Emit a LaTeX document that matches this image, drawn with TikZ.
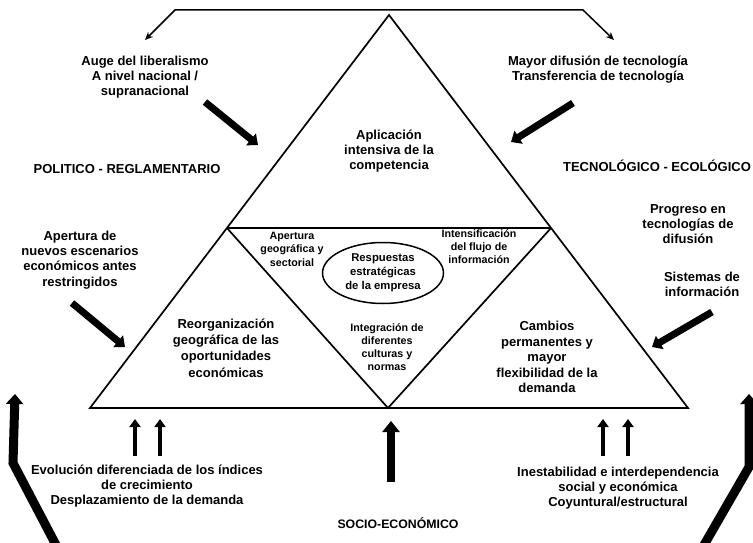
\documentclass[tikz,border=0pt]{standalone}
\usepackage{fontspec}
\setmainfont{Liberation Sans}
\usetikzlibrary{arrows.meta,calc,shapes.geometric}
\begin{document}
\begin{tikzpicture}[x=1pt,y=-1pt,
  tri/.style={line width=1.7pt,line join=miter},
  bigtxt/.style={font=\bfseries\fontsize{13}{15.2}\selectfont,align=center,inner sep=0pt},
  smalltxt/.style={font=\bfseries\fontsize{10.7}{12.8}\selectfont,align=center,inner sep=0pt},
  thickarrow/.style={line width=7pt,-{Triangle[length=9pt,width=15pt]}},
  cornerarrow/.style={line width=9pt,line join=miter,-{Triangle[length=10pt,width=17pt]}},
  uparrow/.style={line width=4.5pt,-{Triangle[length=8pt,width=11pt]}},
  centerarrow/.style={line width=8pt,-{Triangle[length=11pt,width=17pt]}},
  thinarrow/.style={line width=1.5pt,{Stealth[length=8pt,width=7pt]}-{Stealth[length=8pt,width=7pt]}}
]
\useasboundingbox (0,0) rectangle (753,543);
\fill[white] (0,0) rectangle (753,543);

% triangle geometry
\coordinate (A) at (389,15);
\coordinate (B) at (90,408);
\coordinate (C) at (688,408);
\coordinate (L) at ($(A)!0.542!(B)$);
\coordinate (R) at ($(A)!0.542!(C)$);
\coordinate (M) at (388,408);
\draw[tri] (A) -- (B) -- (C) -- cycle;
\draw[tri] (L) -- (R);
\draw[tri] (L) -- (M) -- (R);

% top bent arrow
\coordinate (tl) at (145,40);
\coordinate (tl2) at (175,10);
\coordinate (tr2) at (583,10);
\coordinate (tr) at (614,40);
\draw[thinarrow] (tl) -- (tl2) -- (tr2) -- (tr);

% texts
\node[bigtxt] (auge) at (145,77) {Auge del liberalismo\\A nivel nacional /\\supranacional};
\node[bigtxt] (mayor) at (598,70) {Mayor difusión de tecnología\\Transferencia de tecnología};
\node[bigtxt] (politico) at (127,169) {POLITICO - REGLAMENTARIO};
\node[bigtxt] (tecno) at (657,166) {TECNOLÓGICO - ECOLÓGICO};
\node[bigtxt] (aplic) at (389,151) {Aplicación\\intensiva de la\\competencia};
\node[bigtxt] (apert) at (80,260) {Apertura de\\nuevos escenarios\\económicos antes\\restringidos};
\node[bigtxt] (progr) at (688,224) {Progreso en\\tecnologías de\\difusión};
\node[bigtxt] (sist) at (702,284) {Sistemas de\\información};
\node[bigtxt,font=\bfseries\fontsize{13}{16.3}\selectfont] (reorg) at (226,348) {Reorganización\\geográfica de las\\oportunidades\\económicas};
\node[bigtxt,font=\bfseries\fontsize{13}{15.6}\selectfont] (camb) at (547,357) {Cambios\\permanentes y\\mayor\\flexibilidad de la\\demanda};
\node[smalltxt,font=\bfseries\fontsize{10.7}{13.5}\selectfont] (aperg) at (292,249) {Apertura\\geográfica y\\sectorial};
\node[smalltxt,font=\bfseries\fontsize{10.7}{13}\selectfont] (intens) at (479,247) {Intensificación\\del flujo de\\información};
\node[draw,line width=1.5pt,ellipse,minimum width=121pt,minimum height=61pt,inner sep=0pt] (ell) at (383,273) {};
\node[smalltxt,font=\bfseries\fontsize{11.3}{14}\selectfont] (resp) at (383,273) {Respuestas\\estratégicas\\de la empresa};
\node[smalltxt] (integ) at (387,347) {Integración de\\diferentes\\culturas y\\normas};
\node[bigtxt] (evol) at (147,486) {Evolución diferenciada de los índices\\de crecimiento\\Desplazamiento de la demanda};
\node[bigtxt] (inest) at (618,488) {Inestabilidad e interdependencia\\social y económica\\Coyuntural/estructural};
\node[bigtxt,font=\bfseries\fontsize{12.3}{14}\selectfont] (socio) at (398,523) {SOCIO-ECONÓMICO};

% thick diagonal arrows
\coordinate (a1s) at (205,102); \coordinate (a1e) at (258,145);
\coordinate (a2s) at (573,103); \coordinate (a2e) at (511,142);
\coordinate (a3s) at (72,303);  \coordinate (a3e) at (125,347);
\coordinate (a4s) at (712,312); \coordinate (a4e) at (652,347);
\draw[thickarrow] (a1s) -- (a1e);
\draw[thickarrow] (a2s) -- (a2e);
\draw[thickarrow] (a3s) -- (a3e);
\draw[thickarrow] (a4s) -- (a4e);

% small up arrows
\foreach \x/\n in {135/u1,160/u2,603/u3,628/u4}{
  \coordinate (\n s) at (\x,456);
  \coordinate (\n e) at (\x,419);
  \draw[uparrow] (\n s) -- (\n e);
}
% center arrow
\coordinate (cs) at (391,482); \coordinate (ce) at (391,421);
\draw[centerarrow] (cs) -- (ce);

% corner arrows
\coordinate (lc1) at (56,545); \coordinate (lc2) at (13,463); \coordinate (lc3) at (15,394);
\draw[cornerarrow] (lc1) -- (lc2) -- (lc3);
\coordinate (rc1) at (704,545); \coordinate (rc2) at (749,467); \coordinate (rc3) at (749,394);
\draw[cornerarrow] (rc1) -- (rc2) -- (rc3);
\end{tikzpicture}
\end{document}
